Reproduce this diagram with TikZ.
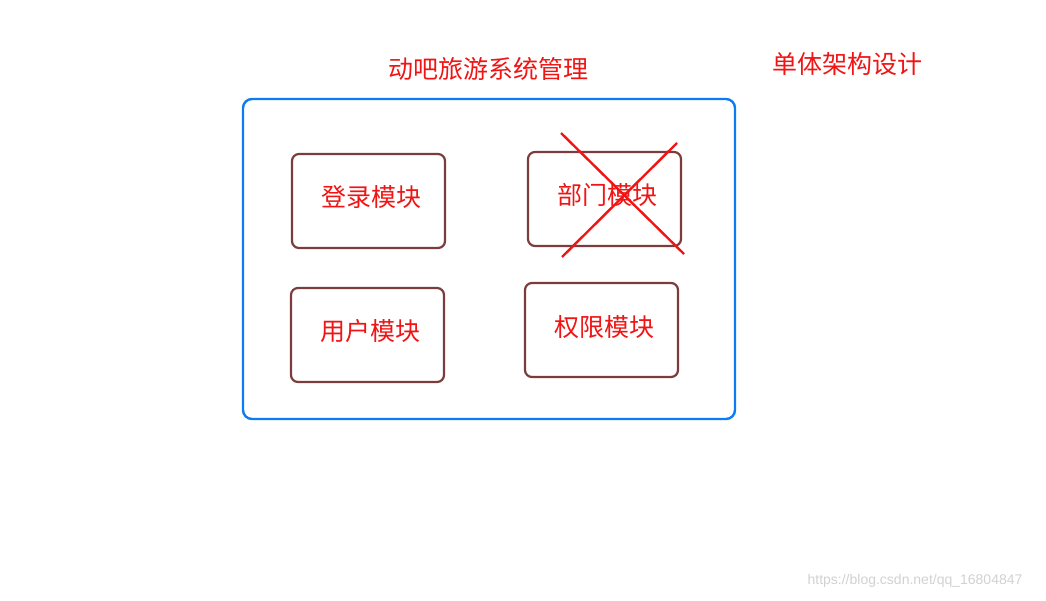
\documentclass[tikz,border=0pt]{standalone}
\usepackage{fontspec}
\newfontfamily\cjk{Noto Sans CJK SC}
\setmainfont{Liberation Sans}
\definecolor{boxblue}{RGB}{10,125,245}
\definecolor{modbrown}{RGB}{125,60,60}
\definecolor{txtred}{RGB}{240,20,20}
\begin{document}
\begin{tikzpicture}[x=1pt,y=-1pt,
  modbox/.style={draw=modbrown,line width=2.2pt,rounded corners=7pt},
  lbl/.style={text=txtred,font=\cjk\fontsize{25}{28}\selectfont,inner sep=0pt}]
\useasboundingbox (0,0) rectangle (1046,600);
\draw[draw=boxblue,line width=2.4pt,rounded corners=9pt] (243,99) rectangle (735,419);
\draw[modbox] (292,154) rectangle (445,248);
\draw[modbox] (528,152) rectangle (681,246);
\draw[modbox] (291,288) rectangle (444,382);
\draw[modbox] (525,283) rectangle (678,377);
\node[lbl] (t) at (488,69) {动吧旅游系统管理};
\node[lbl] (r) at (847,64) {单体架构设计};
\node[lbl] (a) at (371,197) {登录模块};
\node[lbl] (b) at (607,195) {部门模块};
\node[lbl] (c) at (370,331) {用户模块};
\node[lbl] (d) at (604,327) {权限模块};
\coordinate (x1) at (561,133); \coordinate (x2) at (684,254);
\coordinate (x3) at (677,143); \coordinate (x4) at (562,257);
\draw[txtred,line width=2.4pt] (x1) -- (x2);
\draw[txtred,line width=2.4pt] (x3) -- (x4);
\node[text=black!18,font=\fontsize{14}{16}\selectfont,inner sep=0pt] (w) at (915,581) {https://blog.csdn.net/qq\_16804847};
\end{tikzpicture}
\end{document}
